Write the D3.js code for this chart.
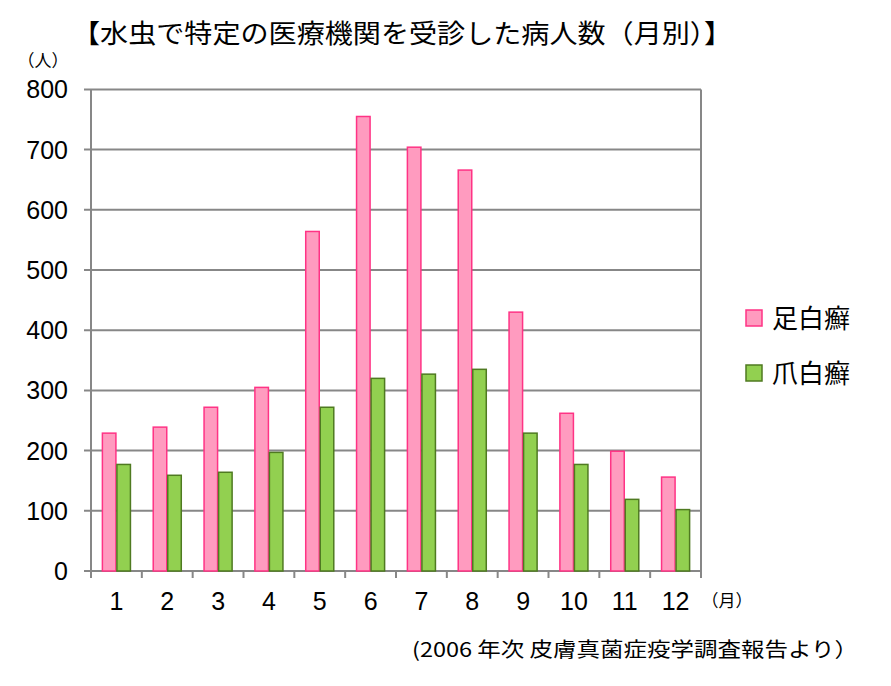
<!DOCTYPE html>
<html><head><meta charset="utf-8">
<script src="https://cdn.jsdelivr.net/npm/d3@7/dist/d3.min.js"></script>
<style>
body{margin:0;background:#fff;}
svg{display:block;}
</style></head>
<body>
<script>
const months = ["1","2","3","4","5","6","7","8","9","10","11","12"];
const seriesNames = ["足白癬","爪白癬"];
const footValues = [229,239,272,305,564,755,704,666,430,262,199,156];
const nailValues = [177,159,164,197,272,320,327,335,229,177,119,102];
const yTicks = [0,100,200,300,400,500,600,700,800];
const fills = ["#ff9bbf","#92d050"];
const strokes = ["#ff3385","#4f7a21"];

const W = 891, H = 686;
const svg = d3.select("body").append("svg").attr("width", W).attr("height", H);

const x = d3.scaleBand().domain(months).range([91, 701]).padding(0);
const xs = d3.scaleBand().domain(seriesNames).range([0, x.bandwidth()]).paddingInner(0).paddingOuter(0.75);
const y = d3.scaleLinear().domain([0, 800]).range([571, 89.4]);

const grey = "#878787";
// gridlines
svg.append("g").selectAll("line").data(yTicks).join("line")
  .attr("x1", 84).attr("x2", 701)
  .attr("y1", d => y(d)).attr("y2", d => y(d))
  .attr("stroke", grey).attr("stroke-width", 2);
// right border
svg.append("line").attr("x1", 701).attr("x2", 701).attr("y1", y(800)).attr("y2", 578)
  .attr("stroke", grey).attr("stroke-width", 2);
// left axis
svg.append("line").attr("x1", 91).attr("x2", 91).attr("y1", y(800)).attr("y2", 578)
  .attr("stroke", grey).attr("stroke-width", 2);
// x ticks
svg.append("g").selectAll("line").data(months.slice(1)).join("line")
  .attr("x1", d => x(d)).attr("x2", d => x(d)).attr("y1", 571).attr("y2", 578)
  .attr("stroke", grey).attr("stroke-width", 2);

// bars
const data = months.map((m, i) => ({m, vals: [footValues[i], nailValues[i]]}));
const groups = svg.append("g").selectAll("g").data(data).join("g")
  .attr("transform", d => `translate(${x(d.m)},0)`);
groups.selectAll("rect").data(d => d.vals.map((v, j) => ({v, j}))).join("rect")
  .attr("x", d => xs(seriesNames[d.j]) + 0.5)
  .attr("width", xs.bandwidth() - 1)
  .attr("y", d => y(d.v))
  .attr("height", d => y(0) - y(d.v))
  .attr("fill", d => fills[d.j])
  .attr("stroke", d => strokes[d.j]).attr("stroke-width", 1.5);

// y labels
svg.append("g").selectAll("text").data(yTicks).join("text")
  .attr("x", 68).attr("y", d => y(d)).attr("dy", "0.36em")
  .attr("text-anchor", "end")
  .style("font-family", "'Liberation Sans', Arial, sans-serif").style("font-size", "25px")
  .attr("fill", "#000").text(d => d);

// x labels
svg.append("g").selectAll("text").data(months).join("text")
  .attr("x", d => x(d) + x.bandwidth() / 2).attr("y", 610)
  .attr("text-anchor", "middle")
  .style("font-family", "'Liberation Sans Narrow', 'Liberation Sans', Arial, sans-serif").style("font-size", "25px")
  .attr("fill", "#000").text(d => d);

// unit labels
svg.append("text").attr("x", 43).attr("y", 67).attr("text-anchor", "middle")
  .style("font-family", "'Noto Sans CJK JP', sans-serif").style("font-size", "17px").text("（人）");
svg.append("text").attr("x", 727).attr("y", 607).attr("text-anchor", "middle")
  .style("font-family", "'Noto Sans CJK JP', sans-serif").style("font-size", "17px").text("（月）");

// title
svg.append("text").attr("x", 72).attr("y", 43)
  .attr("textLength", 660).attr("lengthAdjust", "spacingAndGlyphs")
  .style("font-family", "'Noto Sans CJK JP', sans-serif").style("font-size", "26px")
  .attr("fill", "#000").text("【水虫で特定の医療機関を受診した病人数（月別）】");

// source
svg.append("text").attr("x", 412).attr("y", 657)
  .attr("textLength", 446).attr("lengthAdjust", "spacingAndGlyphs")
  .style("font-family", "'Noto Sans CJK JP', sans-serif").style("font-size", "20px")
  .attr("fill", "#000").text("(2006 年次 皮膚真菌症疫学調査報告より）");

// legend
const legend = svg.append("g").selectAll("g").data(seriesNames).join("g")
  .attr("transform", (d, i) => `translate(746, ${310 + i * 55})`);
legend.append("rect").attr("width", 16).attr("height", 16)
  .attr("fill", (d, i) => fills[i]).attr("stroke", (d, i) => strokes[i]).attr("stroke-width", 1.5);
legend.append("text").attr("x", 26).attr("y", 8).attr("dy", "0.38em")
  .style("font-family", "'Noto Sans CJK JP', sans-serif").style("font-size", "26px")
  .attr("fill", "#000").text(d => d);
</script>
</body></html>
